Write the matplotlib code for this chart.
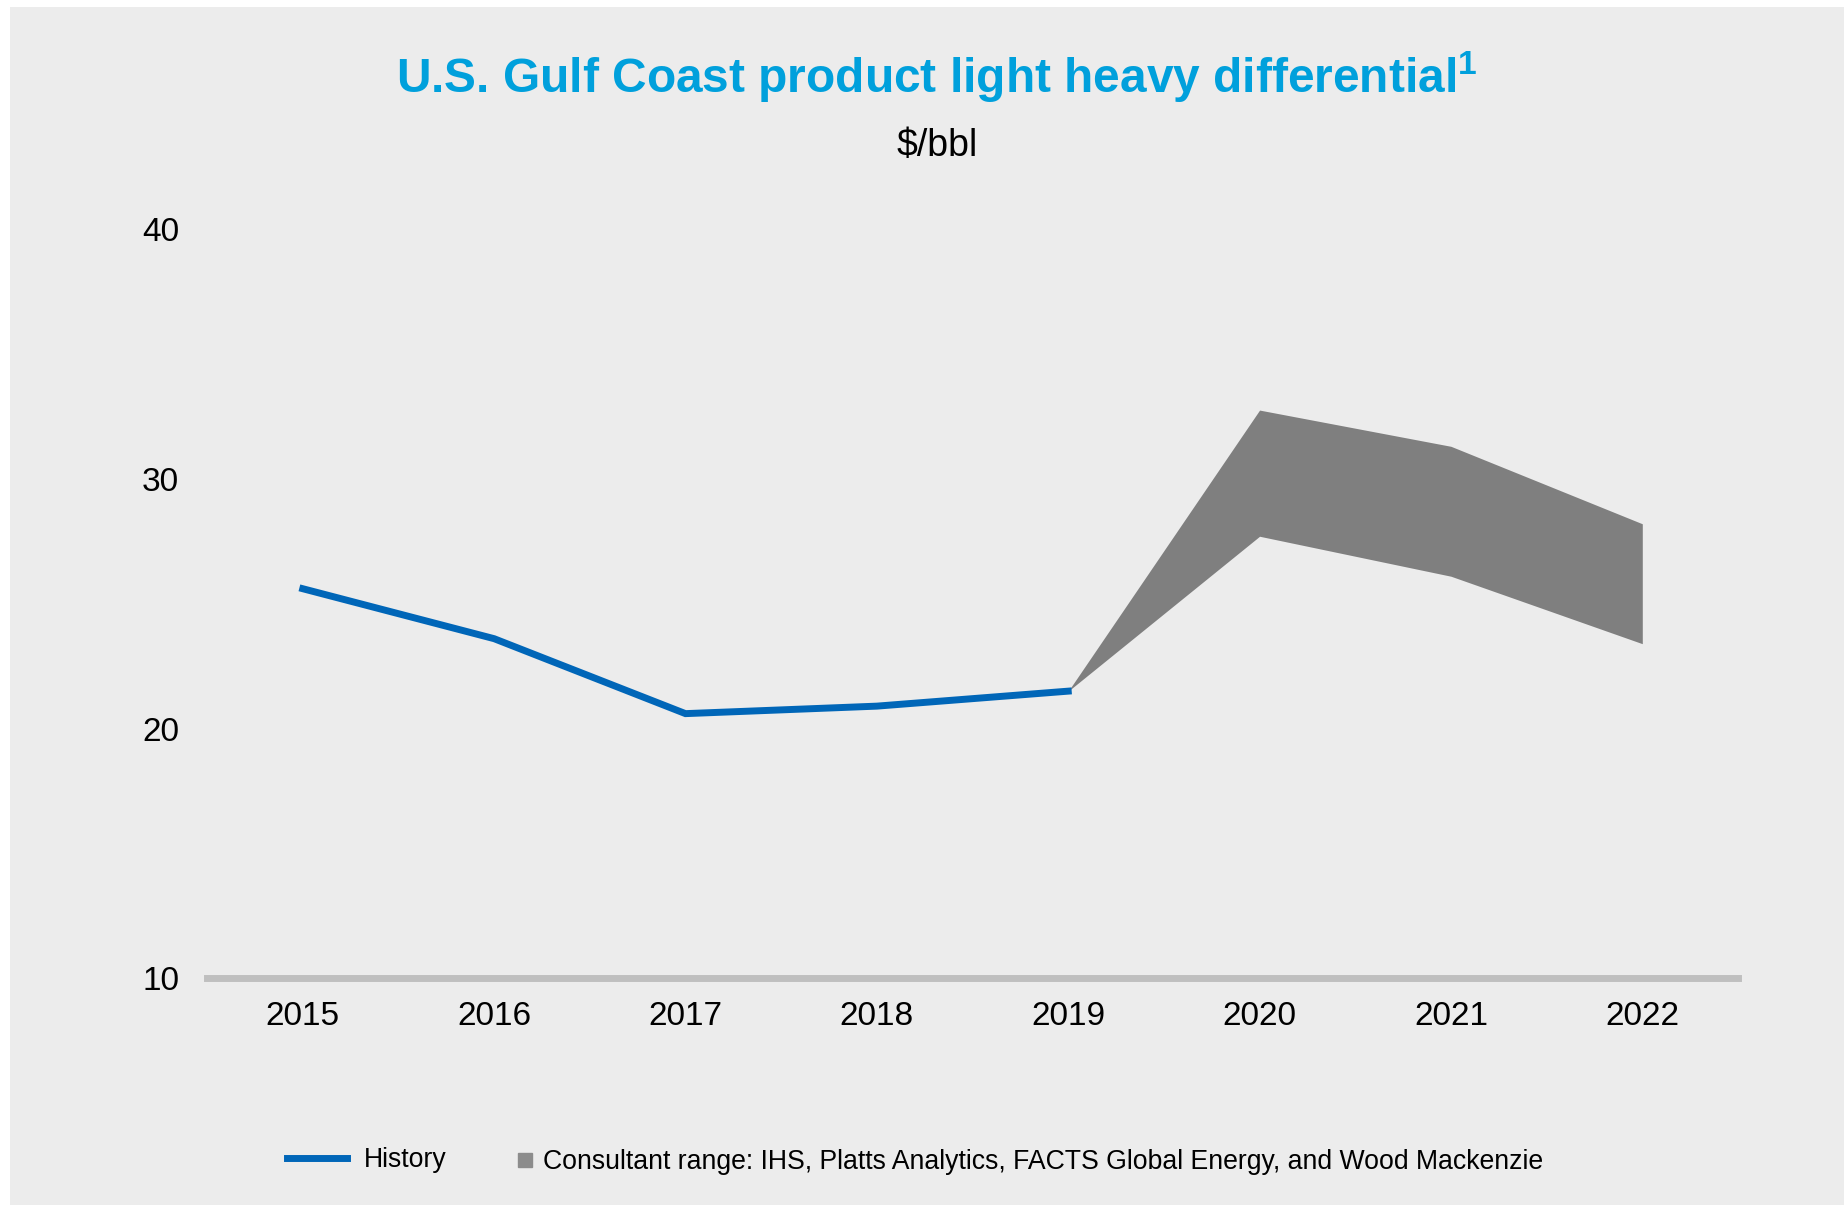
import matplotlib.pyplot as plt
from matplotlib.lines import Line2D

plt.rcParams['font.family'] = ['Liberation Sans', 'DejaVu Sans']

# Light-heavy differential, $/bbl
history_years = [2015, 2016, 2017, 2018, 2019]
history_values = [25.6, 23.6, 20.6, 20.9, 21.5]

range_years = [2019, 2020, 2021, 2022]
range_low = [21.5, 27.7, 26.1, 23.4]
range_high = [21.5, 32.75, 31.3, 28.2]

year_ticks = [2015, 2016, 2017, 2018, 2019, 2020, 2021, 2022]
value_ticks = [10, 20, 30, 40]

blue = '#0066B8'
band_grey = '#7F7F7F'
bg = '#ECECEC'

fig = plt.figure(figsize=(18.44, 12.05), dpi=100)
fig.patch.set_facecolor('white')
# grey panel leaving a thin white margin at top and left
fig.patches.append(plt.Rectangle((10 / 1844, 0), 1, 1 - 7 / 1205,
                                 transform=fig.transFigure, facecolor=bg,
                                 edgecolor='none', zorder=-10))

ax = fig.add_axes([0.1123, 0.188, 0.8302, 0.622])
ax.set_facecolor('none')

ax.fill_between(range_years, range_low, range_high, color=band_grey, linewidth=0)
ax.plot(history_years, history_values, color=blue, linewidth=5,
        solid_joinstyle='miter')

ax.axhline(10, color='#BFBFBF', linewidth=5, clip_on=False, zorder=1)

ax.set_xlim(2014.5, 2022.5)
ax.set_ylim(10, 40)
ax.set_xticks(year_ticks)
ax.set_yticks(value_ticks)
ax.tick_params(axis='both', length=0, labelsize=24, colors='black')
ax.tick_params(axis='x', pad=16)
ax.tick_params(axis='y', pad=20)
for s in ax.spines.values():
    s.set_visible(False)

fig.text(0.508, 1 - 77 / 1205,
         'U.S. Gulf Coast product light heavy differential$^{\\mathregular{1}}$',
         ha='center', va='center', fontsize=34.5, fontweight='bold',
         color='#00A0DC')
fig.text(0.508, 1 - 146 / 1205, '$/bbl', ha='center', va='center',
         fontsize=27, color='black')

# two separate legend entries so each sits where it belongs
leg_y = 1 - 1160 / 1205
fig.legend([Line2D([], [], color=blue, linewidth=5)], ['History'],
           loc='center left', bbox_to_anchor=(287 / 1844, leg_y),
           frameon=False, fontsize=19.2, handlelength=2.25,
           handletextpad=0.63, borderpad=0, borderaxespad=0)
fig.legend([Line2D([], [], color='#8C8C8C', marker='s', linestyle='none',
                   markersize=10)],
           ['Consultant range: IHS, Platts Analytics, FACTS Global Energy, and Wood Mackenzie'],
           loc='center left', bbox_to_anchor=(514 / 1844, leg_y - 0.002),
           frameon=False, fontsize=19.2, handlelength=0.8,
           handletextpad=0.3, borderpad=0, borderaxespad=0)

fig.savefig('out.png', dpi=100, facecolor=fig.get_facecolor())
